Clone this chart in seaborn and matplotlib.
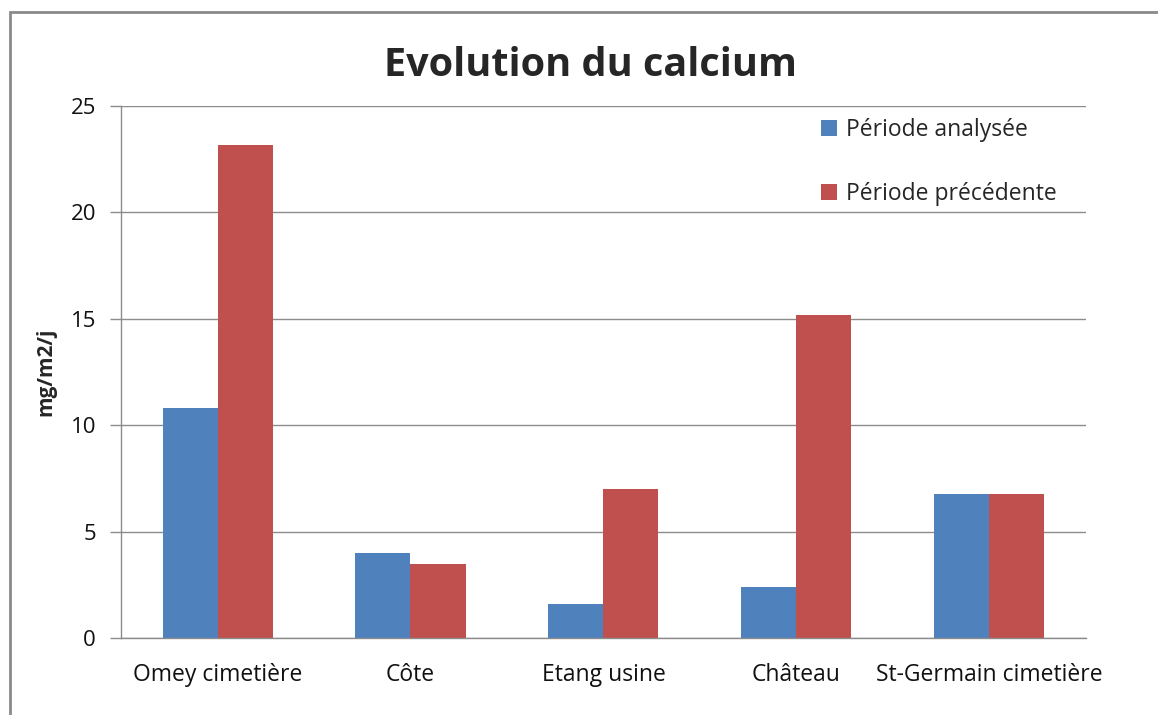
import pandas as pd
import matplotlib
matplotlib.use("Agg")
import matplotlib.pyplot as plt
import seaborn as sns
from matplotlib.patches import Rectangle

# Donnees
sites = ["Omey cimetière", "Côte", "Etang usine", "Château", "St-Germain cimetière"]
periode_analysee = [10.8, 4.0, 1.6, 2.4, 6.75]
periode_precedente = [23.15, 3.5, 7.0, 15.2, 6.75]
series = ["Période analysée", "Période précédente"]
couleurs = ["#4F81BD", "#C0504D"]

df = pd.DataFrame({
    "site": sites * 2,
    "periode": [series[0]] * len(sites) + [series[1]] * len(sites),
    "valeur": periode_analysee + periode_precedente,
})

sns.set_style("white")
plt.rcParams["font.family"] = ["Open Sans", "DejaVu Sans"]

fig = plt.figure(figsize=(11.58, 7.15), dpi=100)
ax = fig.add_axes([0.1045, 0.1077, 0.8333, 0.744])

sns.barplot(data=df, x="site", y="valeur", hue="periode", order=sites,
            hue_order=series, palette=couleurs, width=0.57, saturation=1,
            edgecolor="none", ax=ax)

ax.set_ylim(0, 25)
ax.set_xlim(-0.5, len(sites) - 0.5)
ax.set_yticks([0, 5, 10, 15, 20, 25])
ax.grid(axis="y", color="#8c8c8c", linewidth=1)
ax.set_axisbelow(True)
for s in ["top", "right"]:
    ax.spines[s].set_visible(False)
for s in ["left", "bottom"]:
    ax.spines[s].set_color("#8c8c8c")
    ax.spines[s].set_linewidth(1)

# graduations de l'axe x aux limites des categories
ax.set_xticks([i - 0.5 for i in range(len(sites) + 1)], minor=True)
ax.tick_params(axis="x", which="major", length=0, pad=18, labelsize=16.5, colors="#111111")
ax.tick_params(axis="x", which="minor", length=8, color="#8c8c8c", width=1)
ax.tick_params(axis="y", length=8, color="#8c8c8c", width=1, labelsize=16,
               pad=10, left=True, colors="#111111")

ax.set_xlabel("")
ax.set_ylabel("mg/m2/j", fontsize=15, fontweight="bold", labelpad=10)

fig.text(0.51, 0.908, "Evolution du calcium", ha="center", va="center",
         fontsize=28.5, fontweight="bold")

handles, labels = ax.get_legend_handles_labels()
ax.legend(handles, labels, loc="upper left", bbox_to_anchor=(0.691, 0.864),
          bbox_transform=fig.transFigure, frameon=False, fontsize=16.5,
          handlelength=0.7, handleheight=0.7, handletextpad=0.4,
          labelspacing=1.75)

# cadre du graphique
fig.patches.append(Rectangle((10 / 1158, -0.1), 1.2, 0.1 + (715 - 12) / 715,
                             transform=fig.transFigure, fill=False,
                             edgecolor="#8a8a8a", linewidth=2))

fig.savefig("out.png", dpi=100)
